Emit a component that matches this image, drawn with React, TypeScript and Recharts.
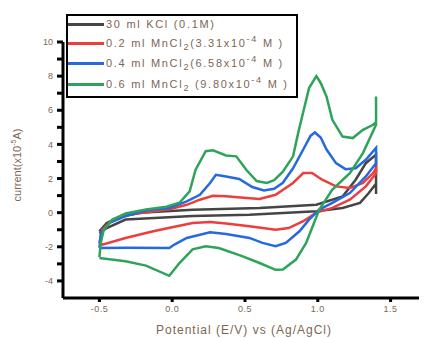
import React from 'react';
import { LineChart, Line, XAxis, YAxis } from 'recharts';

// [potential (V), current (x10^-5 A)] along the scan, forward then back
const kclScan = [
  [-0.5, -1.09], [-0.45, -0.6], [-0.36, -0.25], [-0.22, 0.0], [0.14, 0.17], [0.6, 0.27],
  [0.99, 0.47], [1.17, 0.95], [1.26, 1.93], [1.33, 2.9], [1.4, 3.4], [1.4, 1.1], [1.4, 1.7],
  [1.35, 1.15], [1.29, 0.57], [1.17, 0.27], [0.99, 0.08], [0.53, -0.12], [0.14, -0.2],
  [-0.09, -0.3], [-0.32, -0.4], [-0.45, -0.9], [-0.5, -1.2],
];

const mn02Scan = [
  [-0.5, -1.77], [-0.48, -1.0], [-0.41, -0.4], [-0.3, -0.12], [-0.15, 0.05], [-0.02, 0.2],
  [0.1, 0.46], [0.19, 0.76], [0.28, 0.99], [0.37, 0.96], [0.51, 0.86], [0.6, 0.8], [0.71, 1.05],
  [0.83, 1.74], [0.9, 2.32], [0.96, 2.32], [1.03, 1.93], [1.125, 1.54], [1.22, 1.44], [1.31, 1.74],
  [1.38, 2.32], [1.4, 2.6], [1.4, 2.3], [1.33, 1.54], [1.22, 0.76], [1.1, 0.28], [0.99, 0.0],
  [0.9, -0.5], [0.8, -0.9], [0.71, -1.0], [0.53, -0.8], [0.37, -0.64], [0.26, -0.55], [0.14, -0.6],
  [0.0, -0.85], [-0.13, -1.09], [-0.32, -1.48], [-0.48, -1.87], [-0.5, -1.77],
];

const mn04Scan = [
  [-0.5, -2.07], [-0.49, -1.2], [-0.43, -0.6], [-0.32, -0.2], [-0.18, 0.12], [-0.02, 0.27],
  [0.1, 0.66], [0.19, 1.05], [0.26, 1.74], [0.3, 2.22], [0.37, 2.12], [0.46, 1.97], [0.55, 1.5],
  [0.63, 1.3], [0.7, 1.4], [0.76, 1.75], [0.83, 2.6], [0.9, 3.7], [0.95, 4.5], [0.98, 4.7],
  [1.02, 4.4], [1.06, 3.7], [1.125, 2.9], [1.19, 2.55], [1.26, 2.6], [1.33, 3.1], [1.4, 3.8],
  [1.4, 2.9], [1.33, 2.12], [1.22, 1.15], [1.1, 0.57], [1.01, 0.18], [0.94, -0.41], [0.874, -1.09],
  [0.78, -1.77], [0.71, -1.97], [0.62, -1.77], [0.53, -1.48], [0.37, -1.25], [0.26, -1.15],
  [0.1, -1.48], [0.015, -1.87], [-0.02, -2.07], [-0.3, -2.05], [-0.5, -2.07],
];

const mn06Scan = [
  [-0.5, -2.6], [-0.49, -1.75], [-0.47, -1.0], [-0.41, -0.4], [-0.32, -0.05], [-0.18, 0.18],
  [-0.04, 0.35], [0.05, 0.58], [0.12, 1.25], [0.16, 2.5], [0.23, 3.6], [0.28, 3.65], [0.37, 3.35],
  [0.44, 3.3], [0.51, 2.5], [0.58, 1.85], [0.65, 1.74], [0.7, 1.9], [0.76, 2.4], [0.83, 3.3],
  [0.87, 4.85], [0.9, 5.9], [0.94, 7.3], [0.99, 8.0], [1.02, 7.6], [1.06, 6.8], [1.1, 5.44],
  [1.17, 4.46], [1.24, 4.37], [1.31, 4.85], [1.38, 5.15], [1.4, 5.3], [1.4, 6.8], [1.4, 5.15],
  [1.31, 3.49], [1.22, 2.32], [1.1, 1.35], [1.01, 0.18], [0.965, -0.8], [0.92, -1.77],
  [0.85, -2.75], [0.76, -3.33], [0.71, -3.35], [0.6, -2.95], [0.48, -2.55], [0.32, -2.07],
  [0.23, -1.97], [0.14, -2.15], [0.05, -2.95], [-0.02, -3.7], [-0.18, -3.1], [-0.32, -2.85],
  [-0.5, -2.65],
];

const xTicks = [-0.5, 0, 0.5, 1.0, 1.5];
const yTicks = [-4, -3, -2, -1, 0, 1, 2, 3, 4, 5, 6, 7, 8, 9, 10];

const toPoints = (scan: number[][]) => scan.map(([x, y]) => ({ x, y }));

const textColor = '#7d6654';
const font = '"Liberation Sans", Arial, sans-serif';

const series = [
  { key: 'kcl', data: toPoints(kclScan), color: '#454545' },
  { key: 'mn02', data: toPoints(mn02Scan), color: '#ee3d3d' },
  { key: 'mn04', data: toPoints(mn04Scan), color: '#2469e0' },
  { key: 'mn06', data: toPoints(mn06Scan), color: '#2fa35a' },
];

const legendRows = [
  { color: '#454545', label: <>30 ml KCl (0.1M)</> },
  { color: '#ee3d3d', label: <>0.2 ml MnCl<sub>2</sub>(3.31x10<sup>-4</sup> M )</> },
  { color: '#2469e0', label: <>0.4 ml MnCl<sub>2</sub>(6.58x10<sup>-4</sup> M  )</> },
  { color: '#2fa35a', label: <>0.6 ml MnCl<sub>2</sub> (9.80x10<sup>-4</sup> M )</> },
];
const legendTops = [0, 19, 39, 60];

const App = () => {
  return (
    <div style={{ position: 'relative', width: 419, height: 330, fontFamily: font }}>
      <LineChart width={419} height={330} margin={{ top: 34, right: 0, left: 0, bottom: 0 }}>
        <XAxis
          dataKey="x"
          type="number"
          domain={[-0.75, 1.75]}
          ticks={xTicks}
          allowDataOverflow
          height={40}
          stroke="#000"
          strokeWidth={3}
          tickSize={4}
          tickMargin={4}
          tickFormatter={(v: number) => v.toFixed(1)}
          tick={{ fontSize: 9, fill: textColor, fontFamily: font, letterSpacing: 0.5 }}
        />
        <YAxis
          dataKey="y"
          type="number"
          domain={[-5, 10]}
          ticks={yTicks}
          allowDataOverflow
          width={55}
          stroke="#000"
          strokeWidth={3}
          tickSize={6}
          tickMargin={4}
          interval={0}
          tickFormatter={(v: number) => (v % 2 === 0 ? String(v) : '')}
          tick={{ fontSize: 9, fill: textColor, fontFamily: font }}
        />
        {series.map((s) => (
          <Line
            key={s.key}
            data={s.data}
            dataKey="y"
            type="linear"
            stroke={s.color}
            strokeWidth={2.5}
            dot={false}
            activeDot={false}
            isAnimationActive={false}
          />
        ))}
        <text
          x={10}
          y={157}
          transform="rotate(-90 10 157)"
          textAnchor="middle"
          dominantBaseline="middle"
          fontSize={11}
          fill={textColor}
          fontFamily={font}
        >
          current(x10<tspan dy={-4} fontSize={7}>-5</tspan><tspan dy={4}>A)</tspan>
        </text>
        <text
          x={236}
          y={323}
          textAnchor="middle"
          dominantBaseline="middle"
          fontSize={12}
          fill={textColor}
          fontFamily={font}
          letterSpacing={1}
        >
          Potential (E/V) vs (Ag/AgCl)
        </text>
      </LineChart>
      <div
        style={{
          position: 'absolute',
          left: 58,
          top: 6,
          width: 228,
          height: 80,
          border: '2px solid #000',
          background: '#fff',
        }}
      >
        {legendRows.map((row, i) => (
          <div
            key={i}
            style={{
              position: 'absolute',
              left: 0,
              top: legendTops[i],
              height: 16,
              display: 'flex',
              alignItems: 'center',
              whiteSpace: 'nowrap',
            }}
          >
            <div style={{ width: 36, height: 3, background: row.color, marginRight: 2 }} />
            <span style={{ fontSize: 11, color: textColor, letterSpacing: 1.7, lineHeight: '14px' }}>
              {row.label}
            </span>
          </div>
        ))}
      </div>
    </div>
  );
};

export default App;
